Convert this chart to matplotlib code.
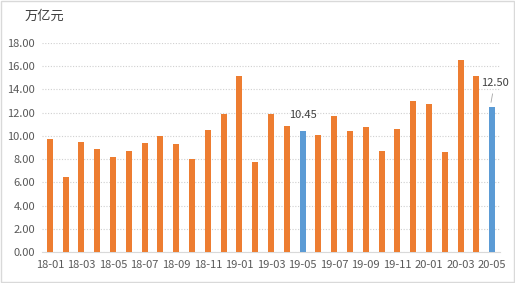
import numpy as np
import matplotlib.pyplot as plt
from matplotlib.patches import Rectangle

plt.rcParams['font.family'] = ['Noto Sans CJK SC', 'DejaVu Sans']

months = ['18-01', '18-02', '18-03', '18-04', '18-05', '18-06', '18-07', '18-08',
          '18-09', '18-10', '18-11', '18-12', '19-01', '19-02', '19-03', '19-04',
          '19-05', '19-06', '19-07', '19-08', '19-09', '19-10', '19-11', '19-12',
          '20-01', '20-02', '20-03', '20-04', '20-05']
values = [9.73, 6.46, 9.47, 8.87, 8.18, 8.70, 9.39, 10.00, 9.30, 8.00, 10.50, 11.90,
          15.20, 7.75, 11.90, 10.85, 10.45, 10.10, 11.70, 10.40, 10.75, 8.70, 10.60,
          13.00, 12.75, 8.60, 16.50, 15.20, 12.50]
highlight = ['19-05', '20-05']

orange = '#ED7D31'
blue = '#5B9BD5'

fig = plt.figure(figsize=(5.15, 2.83), dpi=100)
fig.patches.append(Rectangle((0.002, 0.003), 0.996, 0.994, transform=fig.transFigure,
                             fill=False, edgecolor='#D9D9D9', linewidth=1))
ax = fig.add_axes([42 / 515, 1 - 252 / 283, 458 / 515, 209 / 283])

x = np.arange(len(months))
colors = [blue if m in highlight else orange for m in months]
ax.bar(x, values, width=0.38, color=colors, zorder=3)

ax.set_ylim(0, 18)
ax.set_xlim(-0.5, len(months) - 0.5)
ax.set_yticks(np.arange(0, 19, 2))
ax.set_yticklabels(['%.2f' % v for v in np.arange(0, 19, 2)])
ax.set_xticks(x[::2])
ax.set_xticklabels(months[::2])
ax.tick_params(length=0, colors='#595959', labelsize=8)
ax.tick_params(axis='x', pad=6)
ax.tick_params(axis='y', pad=5)
ax.grid(axis='y', linestyle=(0, (1, 1.5)), color='#D0D0D0', linewidth=0.8, zorder=0)
for s in ['top', 'right', 'left']:
    ax.spines[s].set_visible(False)
ax.spines['bottom'].set_color('#D9D9D9')

i = months.index('19-05')
ax.text(x[i], values[i] + 0.9, '%.2f' % values[i], ha='center', va='bottom',
        fontsize=8, color='#404040')
j = months.index('20-05')
ax.annotate('%.2f' % values[j], xy=(x[j] - 0.1, values[j] + 0.15),
            xytext=(x[j] + 0.15, values[j] + 1.6), ha='center', va='bottom',
            fontsize=8, color='#404040',
            arrowprops=dict(arrowstyle='-', color='#A6A6A6', lw=0.6))

fig.text(25 / 515, 1 - 16 / 283, '万亿元', fontsize=9.5, color='#404040', va='center')

fig.savefig('out.png', dpi=100)
